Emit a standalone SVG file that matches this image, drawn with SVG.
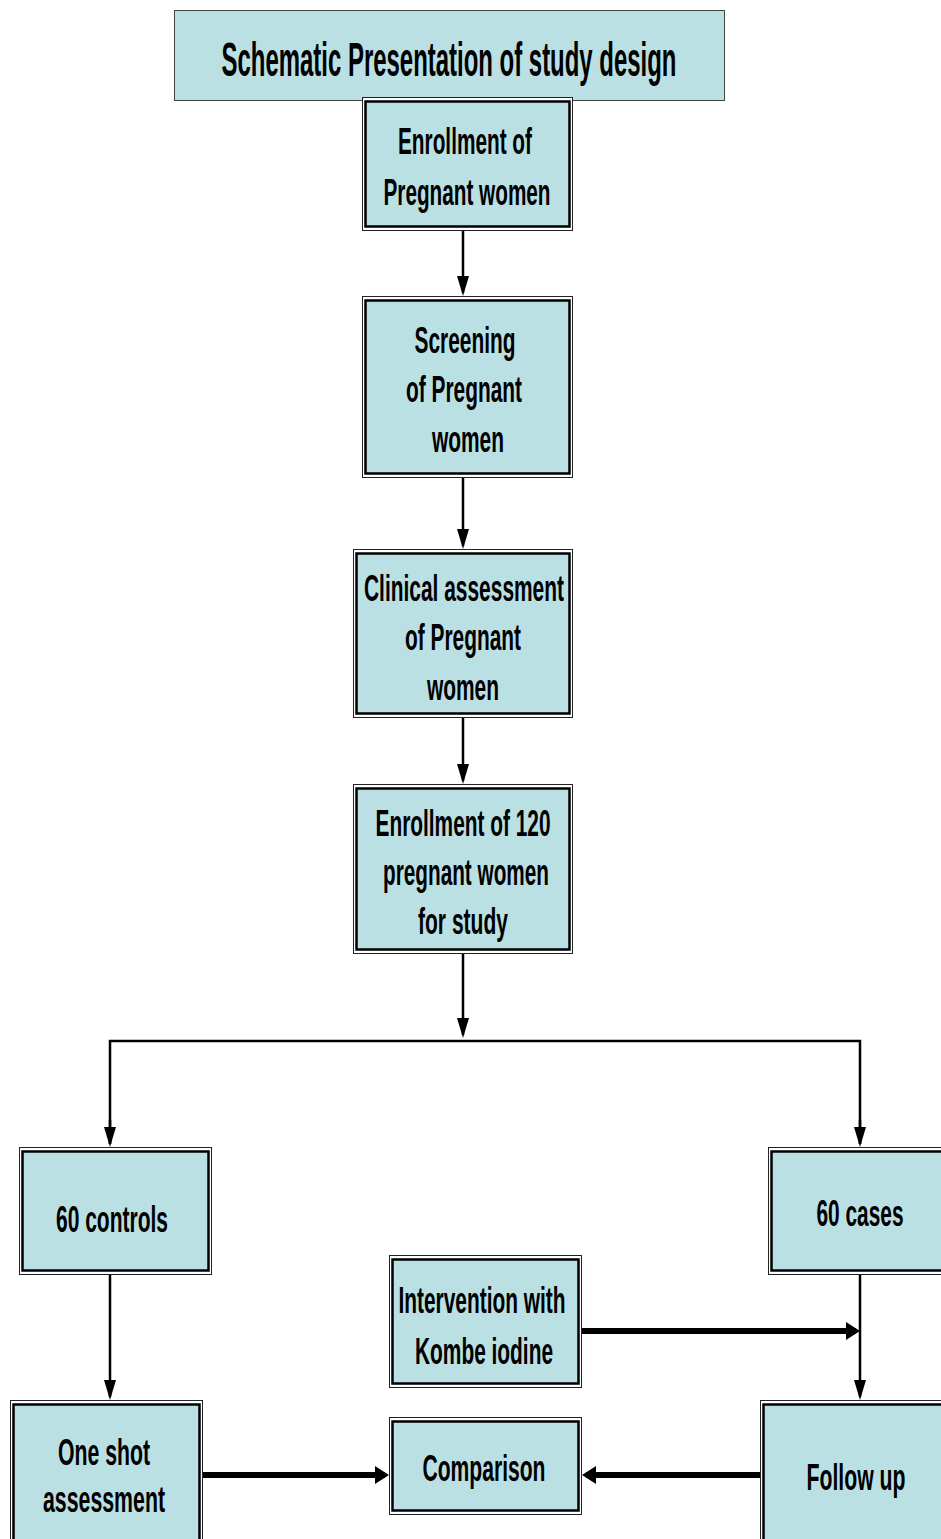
<svg xmlns="http://www.w3.org/2000/svg" width="941" height="1539" viewBox="0 0 941 1539">
<style>
.o{fill:#fff;stroke:#222;stroke-width:1}
.i{fill:#BBE0E3;stroke:#000;stroke-width:2.5}
.t{font-family:"Liberation Sans",Arial,sans-serif;font-weight:bold;font-size:36px;fill:#000;text-anchor:middle}
.h{font-size:48px}
.c{fill:none;stroke:#000;stroke-width:2.5}
.k{fill:none;stroke:#000;stroke-width:6}
</style>
<defs>
<marker id="a" viewBox="0 0 20 12" markerWidth="20" markerHeight="12" markerUnits="userSpaceOnUse" refX="17" refY="6" orient="auto">
<path d="M0,0 L20,6 L0,12 z" fill="#000"/>
</marker>
<marker id="b" viewBox="0 0 14 18" markerWidth="14" markerHeight="18" markerUnits="userSpaceOnUse" refX="10" refY="9" orient="auto">
<path d="M0,0 L14,9 L0,18 z" fill="#000"/>
</marker>
</defs>
<rect width="941" height="1539" fill="#fff"/>
<g id="connectors">
<line class="c" x1="463" y1="231" x2="463" y2="293" marker-end="url(#a)"/>
<line class="c" x1="463" y1="478" x2="463" y2="546" marker-end="url(#a)"/>
<line class="c" x1="463" y1="718" x2="463" y2="781" marker-end="url(#a)"/>
<line class="c" x1="463" y1="954" x2="463" y2="1035" marker-end="url(#a)"/>
<polyline class="c" points="110,1144 110,1041 860,1041 860,1144"/>
<line class="c" x1="110" y1="1120" x2="110" y2="1144" marker-end="url(#a)"/>
<line class="c" x1="860" y1="1120" x2="860" y2="1144" marker-end="url(#a)"/>
<line class="c" x1="110" y1="1275" x2="110" y2="1397" marker-end="url(#a)"/>
<line class="c" x1="860" y1="1275" x2="860" y2="1397" marker-end="url(#a)"/>
<line class="k" x1="582" y1="1331" x2="856" y2="1331" marker-end="url(#b)"/>
<line class="k" x1="203" y1="1475" x2="385" y2="1475" marker-end="url(#b)"/>
<line class="k" x1="760" y1="1475" x2="586" y2="1475" marker-end="url(#b)"/>
</g>
<g id="title">
<rect x="174.5" y="10.5" width="550" height="90" fill="#BBE0E3" stroke="#444" stroke-width="1"/>
<text class="t h" x="449" y="76" textLength="455" lengthAdjust="spacingAndGlyphs">Schematic Presentation of study design</text>
</g>
<g id="n1">
<rect class="o" x="362.5" y="97.5" width="210" height="133"/>
<rect class="i" x="365.5" y="101.5" width="204" height="125"/>
<text class="t" x="465" y="154" textLength="134" lengthAdjust="spacingAndGlyphs">Enrollment of</text>
<text class="t" x="467" y="205" textLength="167" lengthAdjust="spacingAndGlyphs">Pregnant women</text>
</g>
<g id="n2">
<rect class="o" x="362.5" y="296.5" width="210" height="181"/>
<rect class="i" x="365.5" y="300.5" width="204" height="173"/>
<text class="t" x="465" y="353" textLength="101" lengthAdjust="spacingAndGlyphs">Screening</text>
<text class="t" x="464" y="402" textLength="116" lengthAdjust="spacingAndGlyphs">of Pregnant</text>
<text class="t" x="468" y="452" textLength="72" lengthAdjust="spacingAndGlyphs">women</text>
</g>
<g id="n3">
<rect class="o" x="353.5" y="549.5" width="219" height="168"/>
<rect class="i" x="356.5" y="553.5" width="213" height="160"/>
<text class="t" x="464" y="601" textLength="200" lengthAdjust="spacingAndGlyphs">Clinical assessment</text>
<text class="t" x="463" y="650" textLength="116" lengthAdjust="spacingAndGlyphs">of Pregnant</text>
<text class="t" x="463" y="700" textLength="72" lengthAdjust="spacingAndGlyphs">women</text>
</g>
<g id="n4">
<rect class="o" x="353.5" y="784.5" width="219" height="169"/>
<rect class="i" x="356.5" y="788.5" width="213" height="161"/>
<text class="t" x="463" y="836" textLength="175" lengthAdjust="spacingAndGlyphs">Enrollment of 120</text>
<text class="t" x="466" y="885" textLength="166" lengthAdjust="spacingAndGlyphs">pregnant women</text>
<text class="t" x="463" y="934" textLength="90" lengthAdjust="spacingAndGlyphs">for study</text>
</g>
<g id="controls">
<rect class="o" x="19.5" y="1147.5" width="192" height="127"/>
<rect class="i" x="22.5" y="1151.5" width="186" height="119"/>
<text class="t" x="112" y="1232" textLength="112" lengthAdjust="spacingAndGlyphs">60 controls</text>
</g>
<g id="cases">
<rect class="o" x="768.5" y="1147.5" width="180" height="127"/>
<rect class="i" x="771.5" y="1151.5" width="174" height="119"/>
<text class="t" x="860" y="1226" textLength="87" lengthAdjust="spacingAndGlyphs">60 cases</text>
</g>
<g id="intervention">
<rect class="o" x="389.5" y="1255.5" width="192" height="132"/>
<rect class="i" x="392.5" y="1259.5" width="186" height="124"/>
<text class="t" x="482" y="1313" textLength="167" lengthAdjust="spacingAndGlyphs">Intervention with</text>
<text class="t" x="484" y="1364" textLength="138" lengthAdjust="spacingAndGlyphs">Kombe iodine</text>
</g>
<g id="oneshot">
<rect class="o" x="10.5" y="1400.5" width="192" height="150"/>
<rect class="i" x="13.5" y="1404.5" width="186" height="150"/>
<text class="t" x="104" y="1465" textLength="92" lengthAdjust="spacingAndGlyphs">One shot</text>
<text class="t" x="104" y="1512" textLength="122" lengthAdjust="spacingAndGlyphs">assessment</text>
</g>
<g id="comparison">
<rect class="o" x="389.5" y="1417.5" width="192" height="97"/>
<rect class="i" x="392.5" y="1421.5" width="186" height="89"/>
<text class="t" x="484" y="1481" textLength="123" lengthAdjust="spacingAndGlyphs">Comparison</text>
</g>
<g id="followup">
<rect class="o" x="760.5" y="1400.5" width="190" height="150"/>
<rect class="i" x="763.5" y="1404.5" width="184" height="150"/>
<text class="t" x="856" y="1490" textLength="99" lengthAdjust="spacingAndGlyphs">Follow up</text>
</g>
</svg>
